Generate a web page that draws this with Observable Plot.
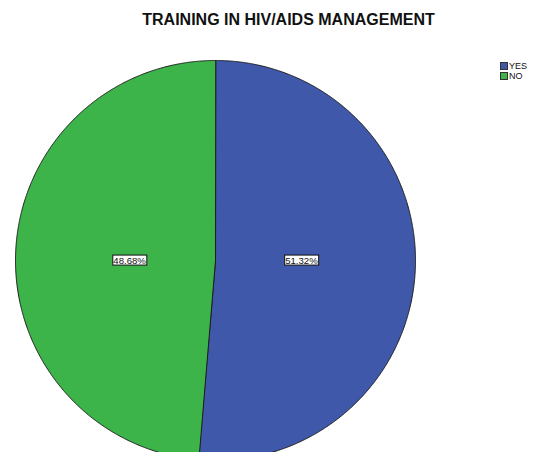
<!DOCTYPE html>
<html><head><meta charset="utf-8">
<script src="https://cdn.jsdelivr.net/npm/d3@7"></script>
<script src="https://cdn.jsdelivr.net/npm/@observablehq/plot@0.6"></script>
<style>
body{margin:0;background:#fff;overflow:hidden;font-family:"Liberation Sans",Arial,sans-serif}
#wrap{position:relative;width:541px;height:452px;overflow:hidden}
#title{position:absolute;left:0;top:12px;width:577px;text-align:center;font-size:16px;font-weight:bold;line-height:16px;color:#111}
#legend{position:absolute;left:500px;top:61px;font-size:9px;line-height:10px;color:#111}
#legend div{display:flex;align-items:center;height:10px;margin:0}
#legend span.sw{display:inline-block;width:6px;height:6px;border:1px solid #333;margin-right:1px}
</style></head>
<body><div id="wrap"><div id="chart"></div><div id="title"></div><div id="legend"></div></div>
<script>
const title = "TRAINING IN HIV/AIDS MANAGEMENT";
const categories = ["YES", "NO"];
const percents = [51.32, 48.68];
const colors = ["#3f58a9", "#3cb44a"];

const pie = d3.pie().sort(null).value(d => d.value)(categories.map((c, i) => ({label: c, value: percents[i]})));
const points = [];
for (const s of pie) {
  points.push({label: s.data.label, x: 0, y: 0});
  const n = Math.max(2, Math.ceil((s.endAngle - s.startAngle) / 0.005));
  for (let k = 0; k <= n; k++) {
    const a = s.startAngle + (s.endAngle - s.startAngle) * k / n;
    points.push({label: s.data.label, x: Math.sin(a), y: Math.cos(a)});
  }
}
const labelR = 0.43;
const labels = pie.map(s => {
  const a = (s.startAngle + s.endAngle) / 2;
  return {label: s.data.label, text: s.data.value.toFixed(2) + "%", x: Math.sin(a) * labelR, y: 0};
});

const chart = Plot.plot({
  width: 541, height: 452, margin: 0,
  x: {domain: [-1, 1], range: [15, 415], axis: null},
  y: {domain: [-1, 1], range: [460, 60], axis: null},
  color: {domain: categories, range: colors},
  marks: [
    Plot.line(points, {x: "x", y: "y", z: "label", fill: "label", stroke: "#1c1c1c", strokeWidth: 1, curve: "linear-closed"}),
    Plot.text(labels, {x: "x", y: "y", text: "text", fontSize: 9.6, fill: "#111", fontFamily: "Liberation Sans, Arial, sans-serif", className: "slice-label"})
  ]
});
document.getElementById("chart").appendChild(chart);
// boxes behind labels
chart.querySelectorAll(".slice-label text").forEach(t => {
  const b = t.getBBox();
  const r = document.createElementNS("http://www.w3.org/2000/svg", "rect");
  r.setAttribute("x", b.x - 0.5); r.setAttribute("y", b.y + 0.5);
  r.setAttribute("width", b.width + 1); r.setAttribute("height", b.height - 1);
  r.setAttribute("fill", "#fff"); r.setAttribute("stroke", "#111"); r.setAttribute("stroke-width", 1);
  if (t.getAttribute("transform")) r.setAttribute("transform", t.getAttribute("transform"));
  t.parentNode.insertBefore(r, t);
});
document.getElementById("title").textContent = title;
const lg = document.getElementById("legend");
categories.forEach((c, i) => {
  const d = document.createElement("div");
  d.innerHTML = `<span class="sw" style="background:${colors[i]}"></span>${c}`;
  lg.appendChild(d);
});
</script></body></html>
